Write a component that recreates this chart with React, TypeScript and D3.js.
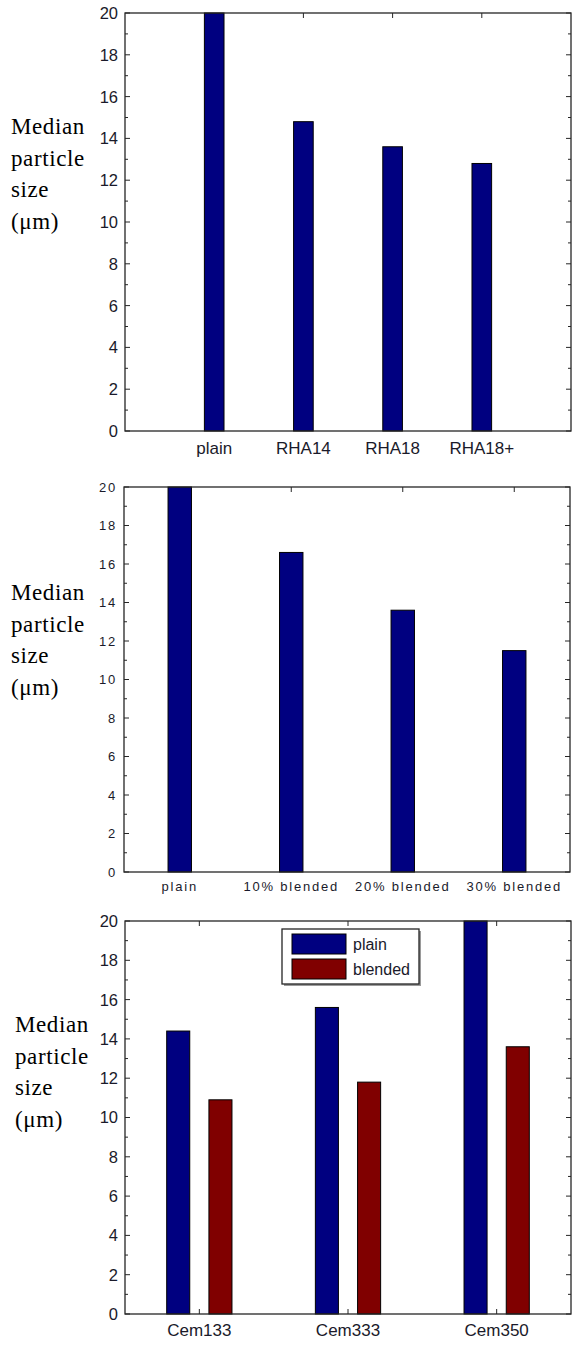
import React from 'react';
import * as d3 from 'd3';

// panel 1: plain vs RHA
const rhaCats = ["plain", "RHA14", "RHA18", "RHA18+"];
const rhaValues = [20, 14.8, 13.6, 12.8];

// panel 2: blend ratio
const blendCats = ["plain", "10% blended", "20% blended", "30% blended"];
const blendValues = [20, 16.6, 13.6, 11.5];

// panel 3: cement types, grouped
const cemCats = ["Cem133", "Cem333", "Cem350"];
const cemPlain = [14.4, 15.6, 20];
const cemBlended = [10.9, 11.8, 13.6];
const seriesNames = ["plain", "blended"];

const yTicks = [0, 2, 4, 6, 8, 10, 12, 14, 16, 18, 20];
const yMinor = d3.range(1, 20, 2);

const NAVY = "#000080";
const MAROON = "#800000";
const AXIS = "#262626";
const SANS = "Arial, 'Liberation Sans', sans-serif";
const SERIF = "'Liberation Serif', 'Times New Roman', serif";

type Bar = { x: number; v: number; color: string };

type PanelProps = {
  box: { left: number; right: number; top: number; bottom: number };
  xDomain: [number, number];
  cats: string[];
  bars: Bar[];
  barW: number;
  font: number;
  tickFont: number;
  spacing?: number;
  labelY: number;
  yLabelX: number;
  yLabelTop: number;
  children?: React.ReactNode;
};

const YLabel = ({ x, top }: { x: number; top: number }) => (
  <text x={x} y={top} fontFamily={SERIF} fontSize={23} fill="#000" letterSpacing={0.6}>
    {["Median", "particle", "size", "(\u03bcm)"].map((s, i) => (
      <tspan key={i} x={x} y={top + i * 31.5}>{s}</tspan>
    ))}
  </text>
);

const Panel = (p: PanelProps) => {
  const { box } = p;
  const x = d3.scaleLinear().domain(p.xDomain).range([box.left, box.right]);
  const y = d3.scaleLinear().domain([0, 20]).range([box.bottom, box.top]);
  const catX = p.cats.map((_, i) => i + 1);
  const bw = x(p.barW) - x(0);
  return (
    <g>
      <rect x={box.left} y={box.top} width={box.right - box.left} height={box.bottom - box.top} fill="#fff" />
      {/* y ticks, inward on both sides */}
      {yTicks.map(t => (
        <g key={"t" + t}>
          <line x1={box.left} x2={box.left + 5} y1={y(t)} y2={y(t)} stroke={AXIS} />
          <line x1={box.right} x2={box.right - 5} y1={y(t)} y2={y(t)} stroke={AXIS} />
          <text x={box.left - 7} y={y(t)} dy="0.36em" textAnchor="end" fontFamily={SANS}
            fontSize={p.tickFont} letterSpacing={p.spacing || 0} fill="#1a1a2a">{t}</text>
        </g>
      ))}
      {yMinor.map(t => (
        <g key={"m" + t}>
          <line x1={box.left} x2={box.left + 3} y1={y(t)} y2={y(t)} stroke={AXIS} />
          <line x1={box.right} x2={box.right - 3} y1={y(t)} y2={y(t)} stroke={AXIS} />
        </g>
      ))}
      {/* x ticks at categories */}
      {catX.map(c => (
        <g key={"x" + c}>
          <line x1={x(c)} x2={x(c)} y1={box.bottom} y2={box.bottom - 5} stroke={AXIS} />
          <line x1={x(c)} x2={x(c)} y1={box.top} y2={box.top + 5} stroke={AXIS} />
          <text x={x(c)} y={p.labelY} textAnchor="middle" fontFamily={SANS} fontSize={p.font}
            letterSpacing={p.spacing || 0} fill="#1a1a2a">{p.cats[c - 1]}</text>
        </g>
      ))}
      {p.bars.map((b, i) => (
        <rect key={"b" + i} x={x(b.x) - bw / 2} y={y(b.v)} width={bw} height={y(0) - y(b.v)}
          fill={b.color} stroke="#000" strokeWidth={1} />
      ))}
      <rect x={box.left} y={box.top} width={box.right - box.left} height={box.bottom - box.top}
        fill="none" stroke={AXIS} strokeWidth={1.3} />
      <YLabel x={p.yLabelX} top={p.yLabelTop} />
      {p.children}
    </g>
  );
};

export default function App() {
  const rhaBars = rhaValues.map((v, i) => ({ x: i + 1, v, color: NAVY }));
  const blendBars = blendValues.map((v, i) => ({ x: i + 1, v, color: NAVY }));
  const cemBars: Bar[] = [];
  cemCats.forEach((_, i) => {
    cemBars.push({ x: i + 1 - 0.142, v: cemPlain[i], color: NAVY });
    cemBars.push({ x: i + 1 + 0.142, v: cemBlended[i], color: MAROON });
  });
  const leg = { x: 282, y: 929, w: 137, h: 55 };
  const legColors = [NAVY, MAROON];
  return (
    <div style={{ position: "absolute", left: 0, top: 0 }}>
      <svg width={577} height={1348} style={{ display: "block", background: "#fff" }}>
        <Panel box={{ left: 125, right: 571, top: 13, bottom: 431 }} xDomain={[0, 5]}
          cats={rhaCats} bars={rhaBars} barW={0.22} font={17} tickFont={16.5}
          labelY={454} yLabelX={11} yLabelTop={134} />
        <Panel box={{ left: 124, right: 570, top: 487, bottom: 872 }} xDomain={[0.5, 4.5]}
          cats={blendCats} bars={blendBars} barW={0.21} font={13} tickFont={13} spacing={1.8}
          labelY={891} yLabelX={11} yLabelTop={600} />
        <Panel box={{ left: 125, right: 571, top: 921, bottom: 1314 }} xDomain={[0.5, 3.5]}
          cats={cemCats} bars={cemBars} barW={0.155} font={17} tickFont={16.5}
          labelY={1336} yLabelX={15} yLabelTop={1032}>
          <g>
            <rect x={leg.x + 2} y={leg.y + 2} width={leg.w} height={leg.h} fill="#9a9a9a" />
            <rect x={leg.x} y={leg.y} width={leg.w} height={leg.h} fill="#fff" stroke={AXIS} strokeWidth={1.3} />
            {seriesNames.map((s, i) => (
              <g key={s}>
                <rect x={leg.x + 10} y={leg.y + 5 + i * 25} width={54} height={20}
                  fill={legColors[i]} stroke="#000" strokeWidth={1} />
                <text x={leg.x + 71} y={leg.y + 15 + i * 25} dy="0.36em" fontFamily={SANS}
                  fontSize={16} fill="#1a1a2a">{s}</text>
              </g>
            ))}
          </g>
        </Panel>
      </svg>
    </div>
  );
}
